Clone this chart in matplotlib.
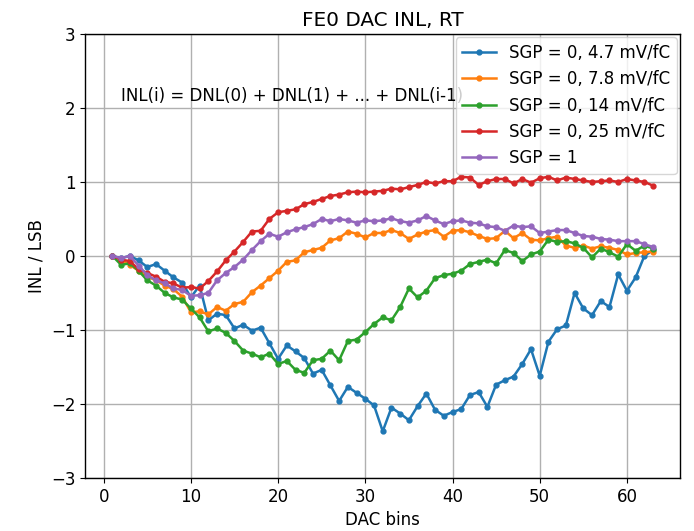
import matplotlib
matplotlib.use("Agg")
import matplotlib.pyplot as plt
import numpy as np

dac_bins = np.arange(1, 64)

inl_sgp0_4p7 = [0.0, -0.03, 0.0, -0.06, -0.15, -0.11, -0.2, -0.29, -0.36, -0.56,
                -0.4, -0.87, -0.78, -0.8, -0.98, -0.93, -1.01, -0.97, -1.18, -1.39,
                -1.21, -1.29, -1.38, -1.59, -1.54, -1.75, -1.96, -1.77, -1.85, -1.93,
                -2.02, -2.37, -2.05, -2.13, -2.22, -2.03, -1.86, -2.08, -2.16, -2.11,
                -2.07, -1.88, -1.84, -2.04, -1.74, -1.68, -1.63, -1.46, -1.26, -1.62,
                -1.16, -0.99, -0.94, -0.50, -0.71, -0.80, -0.61, -0.69, -0.25, -0.47,
                -0.29, 0.0, 0.08]

inl_sgp0_7p8 = [0.0, -0.05, -0.12, -0.2, -0.28, -0.33, -0.4, -0.45, -0.55, -0.76,
                -0.75, -0.79, -0.69, -0.74, -0.65, -0.62, -0.49, -0.4, -0.3, -0.2,
                -0.08, -0.06, 0.05, 0.08, 0.11, 0.21, 0.24, 0.33, 0.30, 0.25,
                0.31, 0.31, 0.35, 0.31, 0.23, 0.29, 0.33, 0.35, 0.26, 0.34,
                0.35, 0.32, 0.27, 0.23, 0.24, 0.34, 0.24, 0.31, 0.22, 0.21,
                0.24, 0.26, 0.14, 0.11, 0.14, 0.10, 0.13, 0.11, 0.08, 0.02,
                0.04, 0.05, 0.06]

inl_sgp0_14 = [0.0, -0.12, -0.1, -0.2, -0.33, -0.4, -0.5, -0.56, -0.59, -0.71,
               -0.83, -1.02, -0.98, -1.04, -1.15, -1.28, -1.32, -1.37, -1.32, -1.46,
               -1.42, -1.54, -1.58, -1.41, -1.39, -1.28, -1.41, -1.15, -1.13, -1.03,
               -0.92, -0.83, -0.87, -0.69, -0.44, -0.56, -0.47, -0.30, -0.26, -0.24,
               -0.20, -0.11, -0.08, -0.05, -0.10, 0.08, 0.04, -0.07, 0.02, 0.06,
               0.22, 0.19, 0.20, 0.17, 0.11, -0.02, 0.10, 0.05, -0.01, 0.16,
               0.07, 0.14, 0.10]

inl_sgp0_25 = [0.0, -0.05, -0.07, -0.18, -0.23, -0.28, -0.35, -0.37, -0.43, -0.42,
               -0.44, -0.34, -0.21, -0.06, 0.06, 0.19, 0.33, 0.34, 0.50, 0.59,
               0.61, 0.63, 0.70, 0.73, 0.77, 0.81, 0.83, 0.86, 0.87, 0.86,
               0.87, 0.88, 0.91, 0.90, 0.93, 0.96, 1.0, 0.98, 1.01, 1.01,
               1.07, 1.06, 0.96, 1.01, 1.04, 1.04, 0.98, 1.04, 0.99, 1.05,
               1.07, 1.02, 1.06, 1.04, 1.02, 1.0, 1.01, 1.02, 1.0, 1.04,
               1.02, 1.0, 0.95]

inl_sgp1 = [0.0, -0.03, 0.0, -0.13, -0.26, -0.33, -0.37, -0.44, -0.46, -0.54,
            -0.53, -0.50, -0.33, -0.23, -0.15, -0.05, 0.08, 0.2, 0.3, 0.26,
            0.32, 0.36, 0.39, 0.43, 0.50, 0.47, 0.50, 0.48, 0.45, 0.48,
            0.47, 0.48, 0.51, 0.47, 0.45, 0.48, 0.54, 0.48, 0.43, 0.47,
            0.48, 0.45, 0.44, 0.40, 0.39, 0.34, 0.41, 0.39, 0.40, 0.31,
            0.33, 0.35, 0.35, 0.31, 0.27, 0.26, 0.23, 0.22, 0.20, 0.20,
            0.20, 0.16, 0.12]

series = [
    (inl_sgp0_4p7, "SGP = 0, 4.7 mV/fC"),
    (inl_sgp0_7p8, "SGP = 0, 7.8 mV/fC"),
    (inl_sgp0_14, "SGP = 0, 14 mV/fC"),
    (inl_sgp0_25, "SGP = 0, 25 mV/fC"),
    (inl_sgp1, "SGP = 1"),
]

plt.rcParams.update({
    "font.size": 12,
    "lines.linewidth": 1.8,
    "lines.markersize": 7,
    "grid.linewidth": 1.0,
    "axes.linewidth": 1.0,
})

fig, ax = plt.subplots(figsize=(6.94, 5.31), dpi=100)
fig.subplots_adjust(left=0.123, right=0.98, top=0.936, bottom=0.1)

for values, label in series:
    ax.plot(dac_bins, values, ".-", label=label)

ax.text(2, 2.1, "INL(i) = DNL(0) + DNL(1) + ... + DNL(i-1)")
ax.set_ylim(-3, 3)
ax.set_title("FE0 DAC INL, RT")
ax.set_xlabel("DAC bins")
ax.set_ylabel("INL / LSB")
ax.grid(True)
ax.legend(loc="upper right", borderaxespad=0.2)

plt.savefig("out.png", dpi=100)
